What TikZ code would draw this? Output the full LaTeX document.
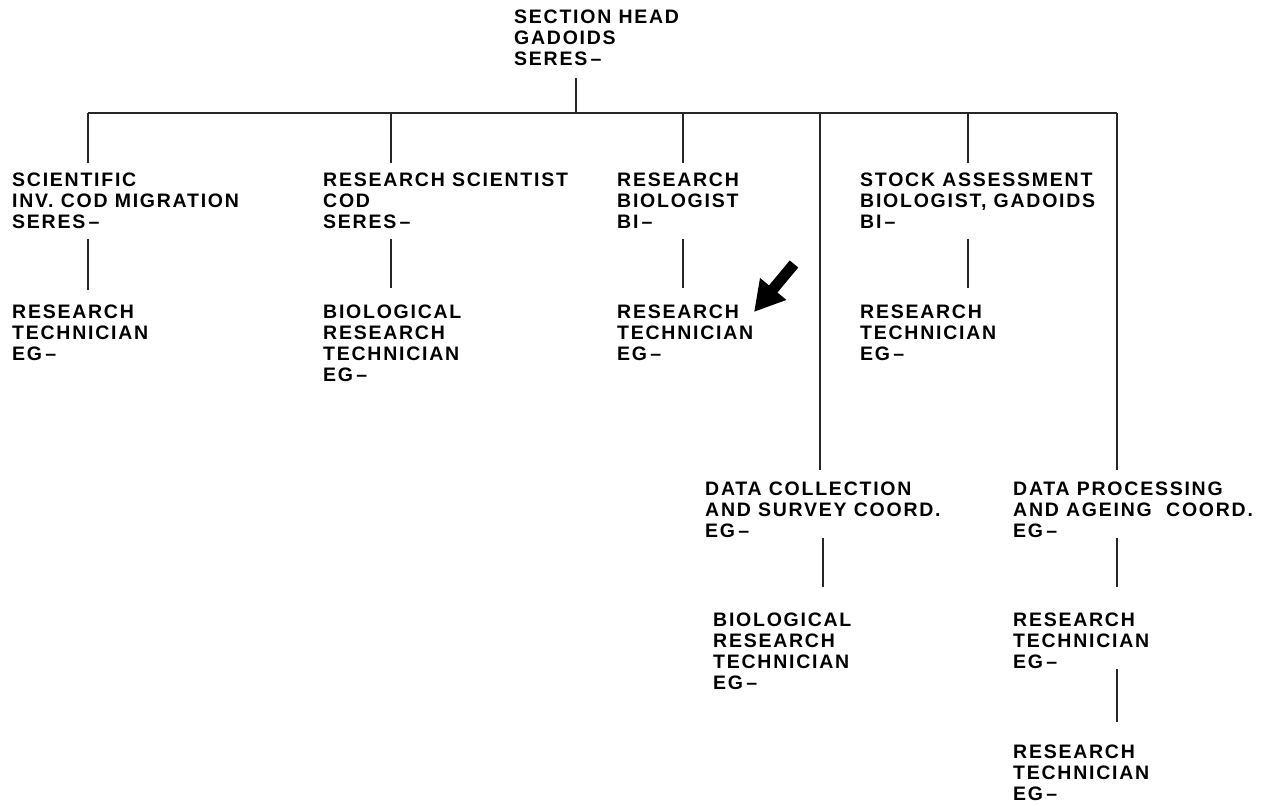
\documentclass[tikz,border=0pt]{standalone}
\usepackage{fontspec}
\setmainfont{Liberation Sans}[LetterSpace=9]
\usetikzlibrary{arrows.meta}
\begin{document}
\begin{tikzpicture}[x=1pt,y=-1pt,
  post/.style={anchor=north west,inner sep=0pt,align=left,
    font=\bfseries\fontsize{19.5}{20.8}\selectfont},
  link/.style={line width=1.3pt,draw=black!85}]
\useasboundingbox (0,0) rectangle (1270,806);
\fill[white] (0,0) rectangle (1270,806);

% posts
\node[post] (head) at (514,10) {SECTION HEAD\\GADOIDS\\SERES\,--};
\node[post] (sci)  at (12,173) {SCIENTIFIC\\INV. COD MIGRATION\\SERES\,--};
\node[post] (rsc)  at (323,173) {RESEARCH SCIENTIST\\COD\\SERES\,--};
\node[post] (rbio) at (617,173) {RESEARCH\\BIOLOGIST\\BI\,--};
\node[post] (sab)  at (860,173) {STOCK ASSESSMENT\\BIOLOGIST, GADOIDS\\BI\,--};
\node[post] (rt1)  at (12,305) {RESEARCH\\TECHNICIAN\\EG\,--};
\node[post] (brt1) at (323,305) {BIOLOGICAL\\RESEARCH\\TECHNICIAN\\EG\,--};
\node[post] (rt2)  at (617,305) {RESEARCH\\TECHNICIAN\\EG\,--};
\node[post] (rt3)  at (860,305) {RESEARCH\\TECHNICIAN\\EG\,--};
\node[post] (dcs)  at (705,482) {DATA COLLECTION\\AND SURVEY COORD.\\EG\,--};
\node[post] (dpa)  at (1013,482) {DATA PROCESSING\\AND AGEING\ \ COORD.\\EG\,--};
\node[post] (brt2) at (713,613) {BIOLOGICAL\\RESEARCH\\TECHNICIAN\\EG\,--};
\node[post] (rt4)  at (1013,613) {RESEARCH\\TECHNICIAN\\EG\,--};
\node[post] (rt5)  at (1013,745) {RESEARCH\\TECHNICIAN\\EG\,--};

% main bar
\coordinate (barL) at (88,113);
\coordinate (barR) at (1117,113);
\draw[link] (barL) -- (barR);
\draw[link] ([xshift=62pt,yshift=-12pt]head.south west) -- ([xshift=62pt]head.south west |- barL);

% drops from the bar
\draw[link] (barL) -- ([xshift=76pt,yshift=10pt]sci.north west);
\draw[link] ([xshift=68pt]rsc.north west |- barL) -- ([xshift=68pt,yshift=10pt]rsc.north west);
\draw[link] ([xshift=66pt]rbio.north west |- barL) -- ([xshift=66pt,yshift=10pt]rbio.north west);
\draw[link] ([xshift=108pt]sab.north west |- barL) -- ([xshift=108pt,yshift=10pt]sab.north west);
\draw[link] ([xshift=115pt]dcs.north west |- barL) -- ([xshift=115pt,yshift=12pt]dcs.north west);
\draw[link] (barR) -- ([xshift=104pt,yshift=12pt]dpa.north west);

% drops to subordinates
\draw[link] ([xshift=76pt,yshift=-10pt]sci.south west) -- ([xshift=76pt,yshift=15pt]rt1.north west);
\draw[link] ([xshift=68pt,yshift=-10pt]rsc.south west) -- ([xshift=68pt,yshift=17pt]brt1.north west);
\draw[link] ([xshift=66pt,yshift=-10pt]rbio.south west) -- ([xshift=66pt,yshift=17pt]rt2.north west);
\draw[link] ([xshift=108pt,yshift=-10pt]sab.south west) -- ([xshift=108pt,yshift=17pt]rt3.north west);
\draw[link] ([xshift=118pt]dcs.south west) -- ([xshift=110pt,yshift=26pt]brt2.north west);
\draw[link] ([xshift=104pt]dpa.south west) -- ([xshift=104pt,yshift=26pt]rt4.north west);
\draw[link] ([xshift=104pt]rt4.south west) -- ([xshift=104pt,yshift=23pt]rt5.north west);

% pointer
\coordinate (ptail) at (794,264);
\coordinate (ptip) at (754,312);
\draw[line width=11pt,-{Triangle[length=30pt,width=32pt]}] (ptail) -- (ptip);
\end{tikzpicture}
\end{document}
